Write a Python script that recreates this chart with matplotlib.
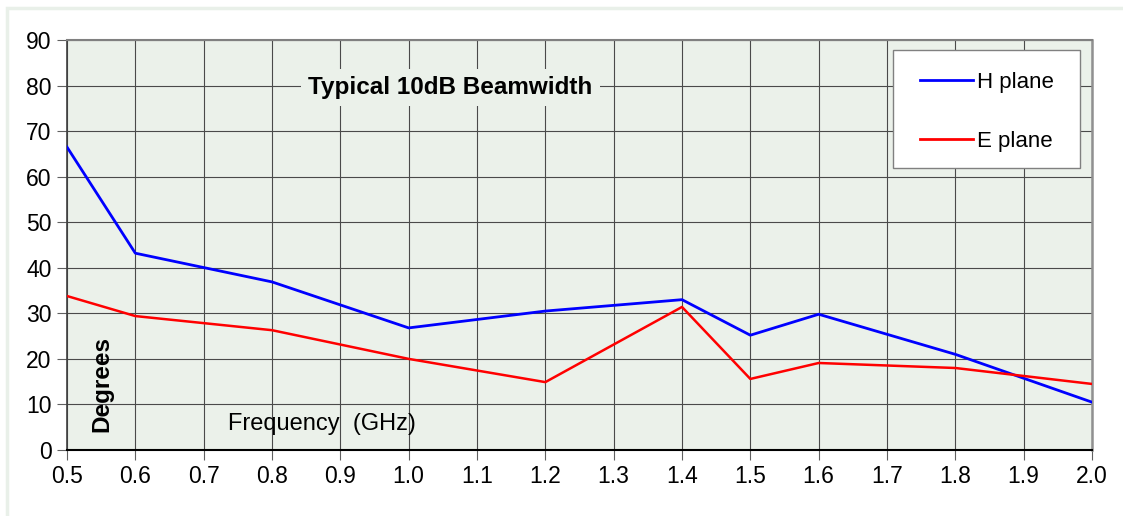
import matplotlib
matplotlib.use("Agg")
import matplotlib.pyplot as plt
from matplotlib.patches import Rectangle

# Data
freq = [0.5, 0.6, 0.8, 1.0, 1.2, 1.4, 1.5, 1.6, 1.8, 2.0]
h_plane = [66.5, 43.2, 36.9, 26.8, 30.5, 33.0, 25.2, 29.8, 21.0, 10.5]
e_plane = [33.8, 29.4, 26.3, 20.0, 14.9, 31.4, 15.6, 19.1, 18.0, 14.5]
xticks = [0.5, 0.6, 0.7, 0.8, 0.9, 1.0, 1.1, 1.2, 1.3, 1.4, 1.5, 1.6, 1.7, 1.8, 1.9, 2.0]
yticks = [0, 10, 20, 30, 40, 50, 60, 70, 80, 90]

plt.rcParams['font.family'] = ['Liberation Sans', 'DejaVu Sans']

W, H = 1123, 516
fig = plt.figure(figsize=(W / 100, H / 100), dpi=100)
fig.patch.set_facecolor('white')

# outer light frame (only top and left edges visible)
fig.patches.append(Rectangle((7 / W, -1), 2, 1 + (H - 8) / H, transform=fig.transFigure,
                             fill=False, edgecolor='#E9F0E9', linewidth=2.5))

ax = fig.add_axes([67 / W, (H - 450) / H, (1092 - 67) / W, 410 / H])
face = '#EBF1EA'
ax.set_facecolor(face)

ax.plot(freq, h_plane, color='#0000FF', linewidth=2.0, label='H plane', zorder=3)
ax.plot(freq, e_plane, color='#FF0000', linewidth=1.8, label='E plane', zorder=3)

ax.set_xlim(0.5, 2.0)
ax.set_ylim(0, 90)
ax.set_xticks(xticks)
ax.set_xticklabels([f"{v:.1f}" for v in xticks])
ax.set_yticks(yticks)
ax.tick_params(axis='both', labelsize=16.5, direction='out', length=7, width=0.8,
               color='#606060', pad=4)
ax.grid(True, color='#4A4A4A', linewidth=0.8, zorder=1)
ax.set_axisbelow(True)

ax.spines['left'].set_color('#404040')
ax.spines['left'].set_linewidth(1.2)
ax.spines['bottom'].set_color('#000000')
ax.spines['bottom'].set_linewidth(1.5)
ax.spines['top'].set_color('#808080')
ax.spines['top'].set_linewidth(1.5)
ax.spines['right'].set_color('#909090')
ax.spines['right'].set_linewidth(1.8)

ax.text(1.061, 79.5, 'Typical 10dB Beamwidth', fontsize=17.5, fontweight='bold',
        ha='center', va='center', zorder=4,
        bbox=dict(facecolor=face, edgecolor='none', pad=5))
ax.text(0.873, 5.6, 'Frequency  (GHz)', fontsize=17, ha='center', va='center', zorder=4)
ax.text(0.551, 14.5, 'Degrees', fontsize=17.5, fontweight='bold', rotation=90,
        ha='center', va='center', zorder=4)

# legend frame drawn separately (wider side padding than top/bottom)
ax.add_patch(Rectangle(((893 - 67) / 1025, (450 - 168) / 410),
                       (1080 - 893) / 1025, (168 - 50) / 410,
                       transform=ax.transAxes, facecolor='white',
                       edgecolor='#808080', linewidth=1.0, zorder=5))
leg = ax.legend(loc='upper left', bbox_to_anchor=((920 - 67) / 1025, (450 - 72) / 410),
                borderaxespad=0, borderpad=0, fontsize=16, frameon=False,
                handlelength=2.4, handletextpad=0.15, labelspacing=1.7)
leg.set_zorder(6)
for line in leg.get_lines():
    line.set_linewidth(2.0)

fig.savefig('out.png', dpi=100)
